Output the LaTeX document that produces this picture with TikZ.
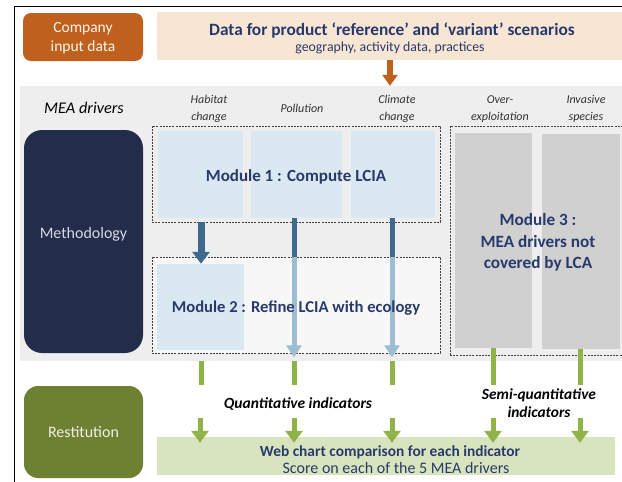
\documentclass[tikz,border=0pt]{standalone}
\usepackage{fontspec}
\setmainfont{Carlito}
\usetikzlibrary{arrows.meta}
\definecolor{orangebox}{HTML}{C0601E}
\definecolor{peach}{HTML}{F8E6D4}
\definecolor{navytext}{HTML}{283A6B}
\definecolor{bandgray}{HTML}{EEEEEE}
\definecolor{lightblue}{HTML}{DAE8F1}
\definecolor{modtwofill}{HTML}{F7F7F7}
\definecolor{graycol}{HTML}{D0D0D0}
\definecolor{methnavy}{HTML}{232D4B}
\definecolor{darkarrow}{HTML}{3E6A8C}
\definecolor{lightarrow}{HTML}{9EBDD0}
\definecolor{greenarrow}{HTML}{8FB348}
\definecolor{olivebox}{HTML}{6E8032}
\definecolor{palegreen}{HTML}{D7E4BD}
\tikzset{
  sidebox/.style={rounded corners=#1, inner sep=0pt, align=center},
  plainbox/.style={inner sep=0pt, draw=none},
  dashbox/.style={draw=black!75, dashed, dash pattern=on 2pt off 1.2pt, line width=0.6pt, inner sep=0pt},
  drvlabel/.style={font=\fontsize{12}{17}\selectfont\itshape, text=black!80, align=center},
  modlabel/.style={font=\fontsize{17}{20}\selectfont\bfseries, text=navytext, align=center},
  fatarrow/.style={draw=darkarrow, line width=7pt, -{Triangle[width=17pt,length=12pt]}},
  darkshaft/.style={draw=darkarrow, line width=5pt},
  lightshaft/.style={draw=lightarrow, line width=5pt, -{Triangle[width=15pt,length=12pt]}},
  greenshaft/.style={draw=greenarrow, line width=5pt},
  greentip/.style={draw=greenarrow, line width=5pt, -{Triangle[width=17pt,length=12pt]}},
  indlabel/.style={font=\fontsize{15.5}{18}\selectfont\bfseries\itshape, text=black, align=center}
}
\begin{document}
\begin{tikzpicture}[x=1pt,y=-1pt]
\useasboundingbox (0,0) rectangle (622,482);
\begin{scope}
\clip (0,0) rectangle (622,482);

% outer frame (left and top edges)
\draw[line width=1.4pt] (14.5,482) -- (14.5,6.5) -- (625,6.5);

% input row
\node[sidebox=8pt, fill=orangebox, minimum width=120pt, minimum height=48pt] (company) at (83,37) {};
\node[text=white!92!orange, font=\fontsize{15.5}{19}\selectfont, align=center] (companytxt) at (83,38.5) {Company\\input data};
\node[plainbox, fill=peach, minimum width=470pt, minimum height=48pt] (datarow) at (392,36) {};
\node[font=\fontsize{17.3}{20}\selectfont\bfseries, text=navytext] (datatitle) at (392,30)
  {Data for product ‘reference’ and ‘variant’ scenarios};
\node[font=\fontsize{13.8}{16}\selectfont, text=navytext] (datasub) at (390,48)
  {geography, activity data, practices};

% grey band for the MEA drivers
\node[plainbox, fill=bandgray, minimum width=610pt, minimum height=275pt] (band) at (325,223.5) {};

% arrow from the data row into the band
\draw[draw=orangebox, line width=6pt, -{Triangle[width=15pt,length=11pt]}]
  (datarow.south -| 390,0) -- (band.north -| 390,0);

\node[font=\fontsize{16.3}{19}\selectfont\itshape, text=black] (meadrv) at (84,108) {MEA drivers};
\node[drvlabel] (dhab) at (209,109) {Habitat\\change};
\node[drvlabel] (dpol) at (302,108) {Pollution};
\node[drvlabel] (dcli) at (397,109) {Climate\\change};
\node[drvlabel] (dover) at (500,109) {Over-\\exploitation};
\node[drvlabel] (dinv) at (586,109) {Invasive\\species};

% methodology side box
\node[sidebox=18pt, fill=methnavy, minimum width=119pt, minimum height=223pt] (method) at (83.5,241.5) {};
\node[text=white!82!methnavy, font=\fontsize{16}{19}\selectfont] (methodtxt) at (83.5,234) {Methodology};

% Module 1
\node[plainbox, fill=lightblue, minimum width=85pt, minimum height=87pt] (m1a) at (200.5,174.5) {};
\node[plainbox, fill=lightblue, minimum width=91pt, minimum height=87pt] (m1b) at (296.5,174.5) {};
\node[plainbox, fill=lightblue, minimum width=84pt, minimum height=87pt] (m1c) at (393,174.5) {};
\node[dashbox, minimum width=288pt, minimum height=96pt] (mod1) at (296,174) {};

% Module 2
\node[dashbox, fill=modtwofill, minimum width=288pt, minimum height=96pt] (mod2) at (296,305) {};
\node[plainbox, fill=lightblue, minimum width=87pt, minimum height=86pt] (m2a) at (200.5,307) {};

% Module 3
\node[plainbox, fill=graycol, minimum width=77pt, minimum height=215pt] (m3a) at (493.5,240.5) {};
\node[plainbox, fill=graycol, minimum width=78pt, minimum height=215pt] (m3b) at (581,241.5) {};
\node[dashbox, minimum width=180pt, minimum height=229pt] (mod3) at (540,240.5) {};

% flows through the modules
\coordinate (hx) at (201,0);
\coordinate (px) at (294,0);
\coordinate (cx) at (392,0);
\coordinate (ox) at (493,0);
\coordinate (ix) at (580,0);

\draw[fatarrow] (mod1.south -| hx) -- (m2a.north -| hx);
\draw[darkshaft] (m1b.south -| px) -- (mod2.north -| px);
\draw[lightshaft] (mod2.north -| px) -- ([yshift=-4pt]mod2.south -| px);
\draw[darkshaft] (m1c.south -| cx) -- (mod2.north -| cx);
\draw[lightshaft] (mod2.north -| cx) -- ([yshift=-4pt]mod2.south -| cx);

\node[modlabel] (mod1txt) at (296,177) {Module 1 : Compute LCIA};
\node[modlabel, font=\fontsize{16.6}{20}\selectfont\bfseries] (mod2txt) at (296,308) {Module 2 : Refine LCIA with ecology};
\node[modlabel, font=\fontsize{17.2}{21.5}\selectfont\bfseries] (mod3txt) at (538,242.5)
  {Module 3 :\\MEA drivers not\\covered by LCA};

% restitution row
\node[sidebox=14pt, fill=olivebox, minimum width=119pt, minimum height=92pt,
      text=white!88!olivebox, font=\fontsize{16}{19}\selectfont] (restit) at (83.5,432) {Restitution};
\node[plainbox, fill=palegreen, minimum width=458pt, minimum height=38pt] (webchart) at (386,456) {};
\node[font=\fontsize{15.4}{18}\selectfont\bfseries, text=navytext] (webtitle) at (390,452)
  {Web chart comparison for each indicator};
\node[font=\fontsize{16}{18}\selectfont, text=navytext] (websub) at (396,468)
  {Score on each of the 5 MEA drivers};

\node[indlabel] (quant) at (298,404) {Quantitative indicators};
\node[indlabel, font=\fontsize{15.4}{18}\selectfont\bfseries\itshape] (semi) at (539,403) {Semi-quantitative\\indicators};

% green connectors down to the restitution
\coordinate (gtop) at (0,385);
\coordinate (gbot) at (0,418);
\draw[greenshaft] (band.south -| hx) -- (gtop -| hx);
\draw[greenshaft] (band.south -| px) -- (gtop -| px);
\draw[greenshaft] (band.south -| cx) -- (gtop -| cx);
\draw[greenshaft] (m3a.south -| ox) -- (gtop -| ox);
\draw[greenshaft] (m3b.south -| ix) -- (gtop -| ix);
\draw[greentip] (gbot -| 200,0) -- ([yshift=-6pt]webchart.north -| 200,0);
\draw[greentip] (gbot -| px) -- ([yshift=-6pt]webchart.north -| px);
\draw[greentip] (gbot -| cx) -- ([yshift=-6pt]webchart.north -| cx);
\draw[greentip] (gbot -| ox) -- ([yshift=-6pt]webchart.north -| ox);
\draw[greentip] (gbot -| ix) -- ([yshift=-6pt]webchart.north -| ix);
\end{scope}
\end{tikzpicture}
\end{document}
